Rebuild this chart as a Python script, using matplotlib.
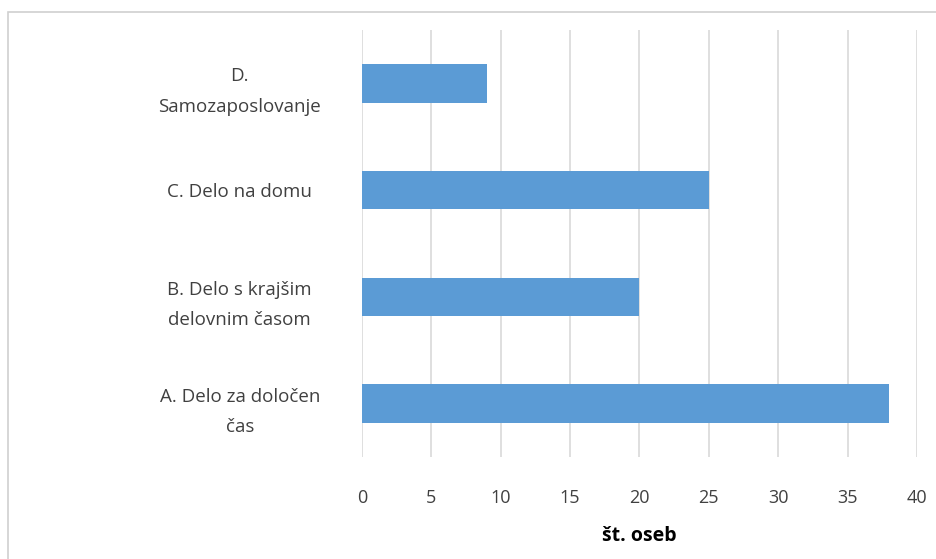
import matplotlib
matplotlib.use('Agg')
from matplotlib import pyplot as plt
from matplotlib.patches import Rectangle

# Data (bottom to top)
categories = ['A. Delo za določen\nčas', 'B. Delo s krajšim\ndelovnim časom',
              'C. Delo na domu', 'D.\nSamozaposlovanje']
values = [38, 20, 25, 9]
xticks = [0, 5, 10, 15, 20, 25, 30, 35, 40]

barColor = '#5b9bd5'
textColor = '#404040'

plt.rcParams['font.family'] = ['Open Sans', 'DejaVu Sans']

fig = plt.figure(figsize = [9.37, 5.59], dpi = 100)
ax = fig.add_axes([362 / 937, 1 - 457 / 559, 555 / 937, 427 / 559])

ypos = list(range(len(categories)))
ax.barh(ypos, values, height = 0.36, color = barColor, zorder = 3)

ax.set_xlim(0, 40)
ax.set_ylim(-0.5, len(categories) - 0.5)
ax.set_xticks(xticks)
ax.set_xticklabels([str(t) for t in xticks], fontsize = 13, color = textColor)
ax.set_yticks(ypos)
ax.set_yticklabels(categories, fontsize = 13.5, color = textColor, ha = 'center',
                   linespacing = 1.9)
ax.tick_params(axis = 'y', length = 0, pad = 88)
ax.tick_params(axis = 'x', length = 0, pad = 23)

ax.grid(axis = 'x', color = '#d9d9d9', linewidth = 1.2, zorder = 0)
for spine in ax.spines.values():
    spine.set_visible(False)

ax.set_xlabel('št. oseb', fontsize = 14, fontweight = 'bold', color = 'black', labelpad = 14)

# Light border around chart area (cropped at right and bottom)
fig.patches.append(Rectangle((8 / 937, -0.1), 1.0, 1 - 12 / 559 + 0.1,
                             transform = fig.transFigure, fill = False,
                             edgecolor = '#d0d0d0', linewidth = 1.2))

fig.savefig('out.png', dpi = 100)
plt.close()
